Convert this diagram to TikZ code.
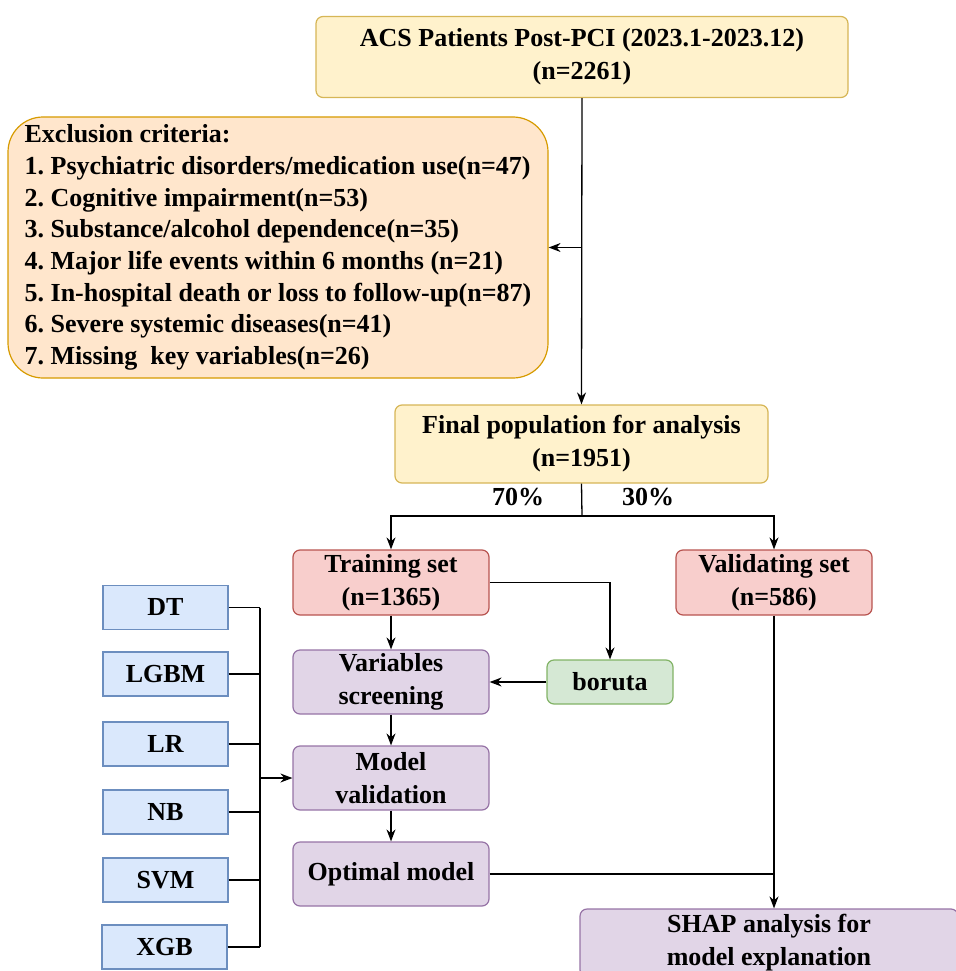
\documentclass[tikz,border=0pt]{standalone}
\usepackage{fontspec}
\setmainfont{Liberation Serif}
\usetikzlibrary{arrows.meta}
\frenchspacing
\definecolor{ylwfill}{HTML}{FFF2CC}\definecolor{ylwline}{HTML}{D6B656}
\definecolor{orgfill}{HTML}{FFE6CC}\definecolor{orgline}{HTML}{D79B00}
\definecolor{redfill}{HTML}{F8CECC}\definecolor{redline}{HTML}{B85450}
\definecolor{purfill}{HTML}{E1D5E7}\definecolor{purline}{HTML}{9673A6}
\definecolor{grnfill}{HTML}{D5E8D4}\definecolor{grnline}{HTML}{82B366}
\definecolor{blufill}{HTML}{DAE8FC}\definecolor{bluline}{HTML}{6C8EBF}
\begin{document}
\begin{tikzpicture}[x=1pt,y=-1pt,
 box/.style={draw,rounded corners=7pt,line width=1.2pt,align=center,inner sep=0pt,
  font=\fontsize{26}{33}\selectfont\bfseries},
 ylwbox/.style={box,fill=ylwfill,draw=ylwline},
 redbox/.style={box,fill=redfill,draw=redline,minimum width=196,minimum height=65},
 purbox/.style={box,fill=purfill,draw=purline,minimum width=196,minimum height=64},
 grnbox/.style={box,fill=grnfill,draw=grnline},
 blubox/.style={box,fill=blufill,draw=bluline,rounded corners=0pt,minimum width=125,minimum height=44},
 link/.style={-{Stealth[length=12pt,width=9pt]},line width=1.3pt},
 line/.style={line width=1.3pt}]
 \useasboundingbox (0,0) rectangle (955,971);
 % top part
 \node[ylwbox,minimum width=532,minimum height=81] (acs) at (582,57)
  {ACS Patients Post-PCI (2023.1-2023.12)\\(n=2261)};
 \node[box,fill=orgfill,draw=orgline,rounded corners=35pt,align=left,
  minimum width=540,minimum height=261,font=\fontsize{26}{31.7}\selectfont\bfseries] (excl) at (278,247.5)
  {Exclusion criteria:\\
   1. Psychiatric disorders/medication use(n=47)\\
   2. Cognitive impairment(n=53)\\
   3. Substance/alcohol dependence(n=35)\\
   4. Major life events within 6 months (n=21)\\
   5. In-hospital death or loss to follow-up(n=87)\\
   6. Severe systemic diseases(n=41)\\
   7. Missing\ \ key variables(n=26)};
 \node[ylwbox,minimum width=373,minimum height=78] (final) at (581.5,444)
  {Final population for analysis\\(n=1951)};
 \draw[link] (acs.south) -- (final.north);
 \draw[link] (acs.south |- excl.east) -- (excl.east);
 % split
 \coordinate (split) at (582,516);
 \node[redbox] (train) at (391,582.5) {Training set\\(n=1365)};
 \node[redbox] (valid) at (774,582.5) {Validating set\\(n=586)};
 \draw[line] (final.south) -- (split);
 \draw[link] (split) -| (train.north);
 \draw[link] (split) -| (valid.north);
 \node[font=\fontsize{26}{30}\selectfont\bfseries] (p70) at (518,497) {70\%};
 \node[font=\fontsize{26}{30}\selectfont\bfseries] (p30) at (648,497) {30\%};
 % training branch
 \node[purbox] (screen) at (391,682) {Variables\\screening};
 \node[grnbox,minimum width=126,minimum height=44] (boruta) at (610,682) {boruta};
 \node[purbox] (mval) at (391,778) {Model\\validation};
 \node[purbox] (opt) at (391,874) {Optimal model};
 \node[purbox,minimum width=378,minimum height=68] (shap) at (769,943)
  {SHAP analysis for\\model explanation};
 \draw[link] (train) -- (screen);
 \draw[link] (train.east) -| (boruta.north);
 \draw[link] (boruta) -- (screen);
 \draw[link] (screen) -- (mval);
 \draw[link] (mval) -- (opt);
 \draw[link] (valid.south) -- (valid.south |- shap.north);
 \draw[line] (opt.east) -- (valid.south |- opt.east);
 % models
 \node[blubox] (dt) at (165.5,607.5) {DT};
 \node[blubox] (lgbm) at (165.5,674) {LGBM};
 \node[blubox] (lr) at (165.5,744) {LR};
 \node[blubox] (nb) at (165.5,812) {NB};
 \node[blubox] (svm) at (165.5,880) {SVM};
 \node[blubox] (xgb) at (164.5,947) {XGB};
 \coordinate (bus) at (260,778);
 \foreach \m in {dt,lgbm,lr,nb,svm,xgb}
  \draw[line] (\m.east) -- (bus |- \m.east);
 \draw[line] (bus |- dt.east) -- (bus |- xgb.east);
 \draw[link] (bus) -- (mval.west);
\end{tikzpicture}
\end{document}
